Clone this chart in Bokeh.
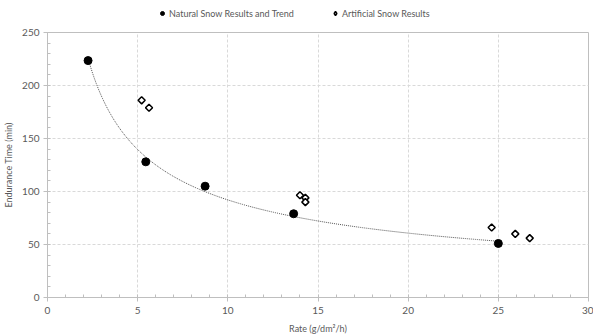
import numpy as np
from bokeh.plotting import figure
from bokeh.layouts import column
from bokeh.models import Legend, LegendItem, Range1d, FixedTicker
from bokeh.embed import file_html
from bokeh.resources import INLINE

# Data
natural_rate = [2.25, 5.45, 8.74, 13.65, 25.0]
natural_time = [223.5, 128.0, 105.0, 79.0, 51.0]
artificial_rate = [5.22, 5.63, 14.0, 14.3, 14.3, 24.63, 25.94, 26.74]
artificial_time = [186.0, 179.0, 96.5, 94.0, 90.0, 66.0, 60.0, 56.0]
x_ticks = [0, 5, 10, 15, 20, 25, 30]
y_ticks = [0, 50, 100, 150, 200, 250]
series_names = ["Natural Snow Results and Trend", "Artificial Snow Results"]

# power-law trend fitted to natural data
b, ln_a = np.polyfit(np.log(natural_rate), np.log(natural_time), 1)
trend_x = np.linspace(min(natural_rate), max(natural_rate), 200)
trend_y = np.exp(ln_a) * trend_x ** b

FONT = "Lato"
GRAY = "#595959"
LEG_H = 22

# ---------- main chart ----------
p = figure(width=593, height=336 - LEG_H, output_backend="svg", toolbar_location=None,
           x_range=Range1d(0, 30), y_range=Range1d(0, 250),
           min_border_left=46, min_border_right=5, min_border_top=10, min_border_bottom=38)
p.outline_line_color = "#bfbfbf"
p.outline_line_width = 1
p.background_fill_color = "white"
p.border_fill_color = "white"

for ax in (p.xaxis[0], p.yaxis[0]):
    ax.axis_line_color = "#bfbfbf"
    ax.major_tick_line_color = "#bfbfbf"
    ax.minor_tick_line_color = "#bfbfbf"
    ax.major_tick_in = 0
    ax.major_tick_out = 4
    ax.minor_tick_in = 3
    ax.minor_tick_out = 0
    ax.major_label_text_font = FONT
    ax.major_label_text_font_size = "10px"
    ax.major_label_text_color = GRAY
    ax.axis_label_text_font = FONT
    ax.axis_label_text_font_size = "9px"
    ax.axis_label_text_color = GRAY
    ax.axis_label_text_font_style = "normal"

p.xaxis.ticker = FixedTicker(ticks=x_ticks, minor_ticks=list(range(0, 31)))
p.yaxis.ticker = FixedTicker(ticks=y_ticks, minor_ticks=list(range(0, 251, 10)))
p.xaxis.axis_label = "Rate (g/dm²/h)"
p.yaxis.axis_label = "Endurance Time (min)"
p.xaxis.major_label_standoff = 5
p.yaxis.major_label_standoff = 4
p.xaxis.axis_label_standoff = 6
p.yaxis.axis_label_standoff = 5

p.xgrid.grid_line_color = "#d9d9d9"
p.ygrid.grid_line_color = "#d9d9d9"
p.xgrid.grid_line_dash = "3 2"
p.ygrid.grid_line_dash = "3 2"

p.line(trend_x, trend_y, line_color="#555555", line_width=1, line_dash="1 1")
p.scatter(natural_rate, natural_time, marker="circle", size=8,
          fill_color="black", line_color="black")
p.scatter(artificial_rate, artificial_time, marker="square", angle=np.pi / 4, size=5,
          fill_color="white", line_color="black", line_width=1.5)

# ---------- legend strip ----------
lf = figure(width=593, height=LEG_H, output_backend="svg", toolbar_location=None,
            x_range=Range1d(0, 1), y_range=Range1d(0, 1),
            x_axis_type=None, y_axis_type=None, min_border=0)
lf.outline_line_color = None
lf.xgrid.visible = False
lf.ygrid.visible = False
# off-screen proxy glyphs, only used to draw the legend symbols
nat_l = lf.scatter(x=[-5], y=[-5], marker="circle", size=9, fill_color="black", line_color="black")
art_l = lf.scatter(x=[-5], y=[-5], marker="diamond", size=9,
                   fill_color="white", line_color="black", line_width=1.5)
legend = Legend(items=[LegendItem(label=series_names[0], renderers=[nat_l]),
                       LegendItem(label=series_names[1], renderers=[art_l])],
                orientation="horizontal", location=(110, 3),
                label_text_font=FONT, label_text_font_size="9px", label_text_color=GRAY,
                border_line_color=None, background_fill_alpha=0,
                glyph_width=10, glyph_height=12, spacing=36, padding=0, margin=0,
                label_standoff=2, label_height=12)
lf.add_layout(legend, "center")

layout = column(lf, p, spacing=0)
open("out.html", "w").write(file_html(layout, INLINE))
